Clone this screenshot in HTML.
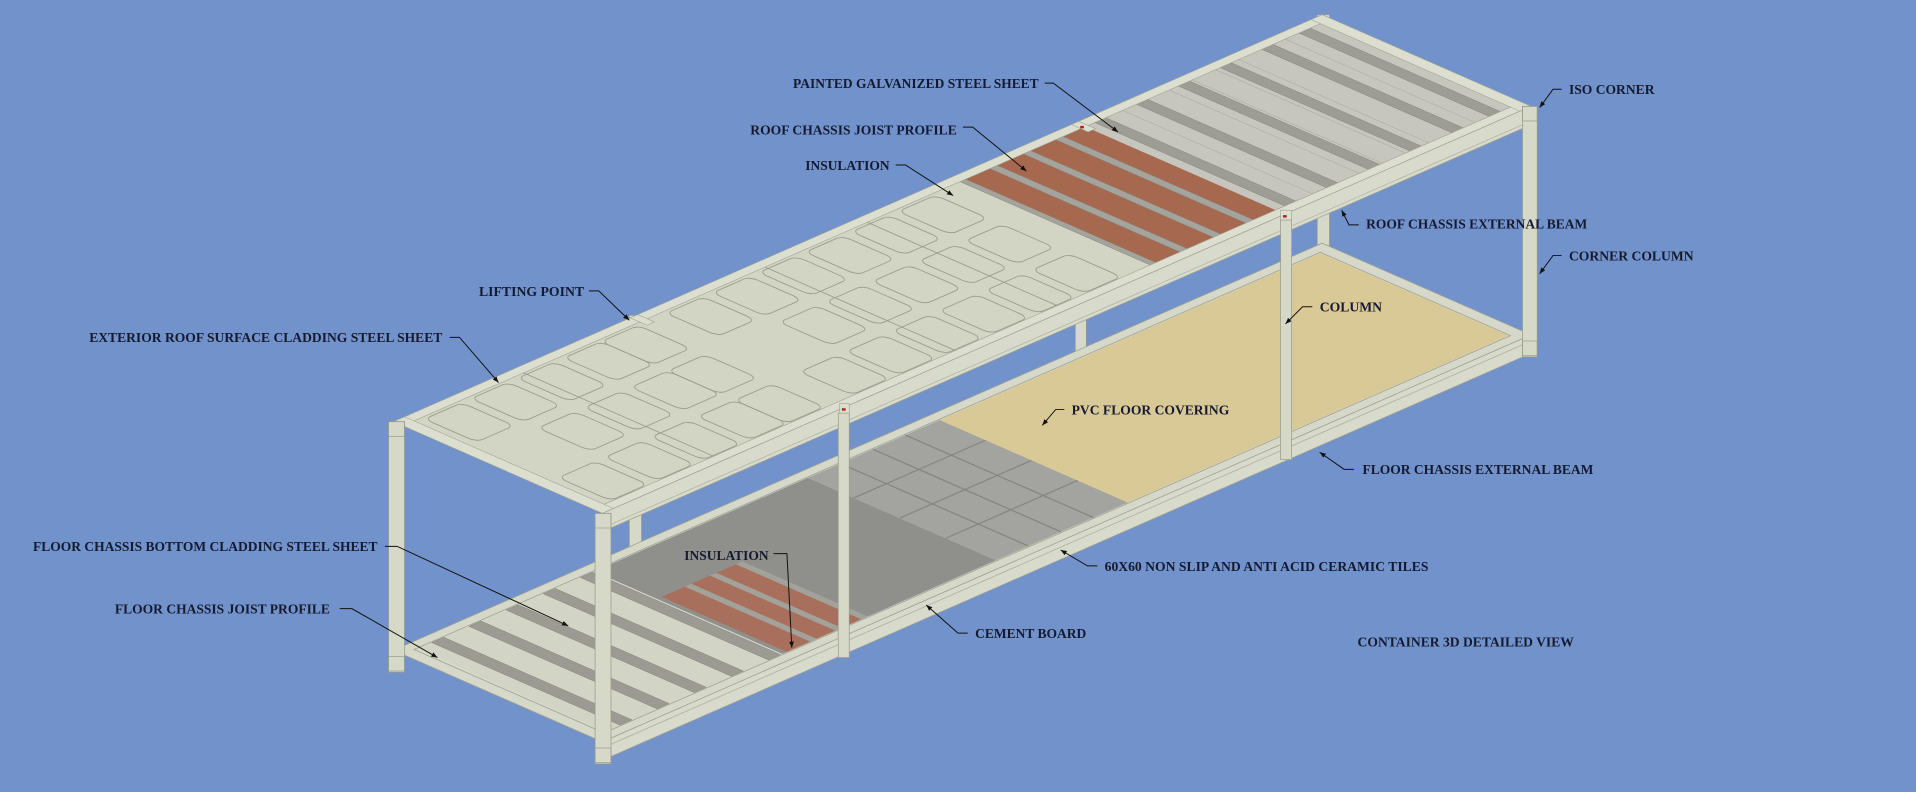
<!DOCTYPE html>
<html><head><meta charset="utf-8"><style>
html,body{margin:0;padding:0;background:#7192cb;width:1916px;height:792px;overflow:hidden}
svg{display:block}
text{font-family:"Liberation Serif",serif;font-weight:bold;font-size:11px;fill:#151a30}
.ns{vector-effect:non-scaling-stroke}
</style></head><body>
<svg width="1916" height="792" viewBox="0 0 1568 648" preserveAspectRatio="none" xmlns="http://www.w3.org/2000/svg">
<defs>
<marker id="ah" markerWidth="6" markerHeight="6" refX="5" refY="3" orient="auto" markerUnits="userSpaceOnUse">
<path d="M0,1 L5,3 L0,5 z" fill="#111"/></marker>
</defs>
<rect width="1568" height="648" fill="#7192cb"/>

<!-- back columns -->
<rect x="1078" y="12" width="10" height="205" fill="#d6d8c8" stroke="#9a9c8c" stroke-width="0.6"/>
<rect x="880" y="100" width="9" height="205" fill="#d6d8c8" stroke="#9a9c8c" stroke-width="0.6"/>
<rect x="515" y="258" width="10" height="205" fill="#d6d8c8" stroke="#9a9c8c" stroke-width="0.6"/>

<!-- FLOOR -->
<g transform="matrix(760 -333 171 75 322 532)">
  <rect x="0" y="0" width="1" height="1" fill="#d6d8ca"/>
  <rect x="0.015" y="0.05" width="0.19" height="0.9" fill="#d2d4c5"/>
  <g fill="#9b9b93" stroke="#85857e" stroke-width="0.5" class="ns">
    <rect x="0.03" y="0.05" width="0.013" height="0.9" class="ns"/>
    <rect x="0.07" y="0.05" width="0.013" height="0.9" class="ns"/>
    <rect x="0.11" y="0.05" width="0.013" height="0.9" class="ns"/>
    <rect x="0.15" y="0.05" width="0.013" height="0.9" class="ns"/>
    <rect x="0.19" y="0.05" width="0.013" height="0.9" class="ns"/>
  </g>
  <rect x="0.205" y="0.05" width="0.23" height="0.9" fill="#8f8f8b"/>
  <rect x="0.21" y="0.35" width="0.085" height="0.6" fill="#a8705c"/>
  <g fill="#a2a29a">
    <rect x="0.235" y="0.35" width="0.007" height="0.6"/>
    <rect x="0.262" y="0.35" width="0.007" height="0.6"/>
    <rect x="0.29" y="0.35" width="0.007" height="0.6"/>
  </g>
  <rect x="0.435" y="0.05" width="0.142" height="0.9" fill="#a3a39f"/>
  <g stroke="#85857f" stroke-width="1.2" class="ns">
    <line x1="0.435" y1="0.27" x2="0.577" y2="0.27" class="ns"/>
    <line x1="0.435" y1="0.49" x2="0.577" y2="0.49" class="ns"/>
    <line x1="0.435" y1="0.71" x2="0.577" y2="0.71" class="ns"/>
    <line x1="0.47" y1="0.05" x2="0.47" y2="0.95" class="ns"/>
    <line x1="0.505" y1="0.05" x2="0.505" y2="0.95" class="ns"/>
    <line x1="0.54" y1="0.05" x2="0.54" y2="0.95" class="ns"/>
  </g>
  <rect x="0.577" y="0.05" width="0.41" height="0.9" fill="#d9c997"/>
  <g fill="none" stroke="#a0a292" stroke-width="0.8" class="ns">
    <rect x="0" y="0" width="1" height="1" class="ns"/>
    <rect x="0.012" y="0.045" width="0.976" height="0.91" class="ns"/>
  </g>
</g>
<!-- floor front face -->
<polygon points="493,607 1253,274 1253,289 493,622" fill="#d8dacb" stroke="#a0a292" stroke-width="0.6"/>
<line x1="493" y1="612" x2="1253" y2="279" stroke="#b4b6a6" stroke-width="0.8"/>

<!-- ROOF -->
<g transform="matrix(760 -333 171 75 322 345)">
  <rect x="0" y="0" width="1" height="1" fill="#d2d4c4"/>
  <g fill="none" stroke="#9a9c8e" stroke-width="0.9" class="ns">
    <rect x="0.02" y="0.06" width="0.04" height="0.25" rx="0.006" ry="0.04" class="ns"/>
    <rect x="0.07" y="0.38" width="0.04" height="0.25" rx="0.006" ry="0.04" class="ns"/>
    <rect x="0.02" y="0.70" width="0.04" height="0.25" rx="0.006" ry="0.04" class="ns"/>
    <rect x="0.07" y="0.06" width="0.04" height="0.25" rx="0.006" ry="0.04" class="ns"/>
    <rect x="0.12" y="0.38" width="0.04" height="0.25" rx="0.006" ry="0.04" class="ns"/>
    <rect x="0.07" y="0.70" width="0.04" height="0.25" rx="0.006" ry="0.04" class="ns"/>
    <rect x="0.12" y="0.06" width="0.04" height="0.25" rx="0.006" ry="0.04" class="ns"/>
    <rect x="0.17" y="0.38" width="0.04" height="0.25" rx="0.006" ry="0.04" class="ns"/>
    <rect x="0.12" y="0.70" width="0.04" height="0.25" rx="0.006" ry="0.04" class="ns"/>
    <rect x="0.17" y="0.06" width="0.04" height="0.25" rx="0.006" ry="0.04" class="ns"/>
    <rect x="0.21" y="0.38" width="0.04" height="0.25" rx="0.006" ry="0.04" class="ns"/>
    <rect x="0.17" y="0.70" width="0.04" height="0.25" rx="0.006" ry="0.04" class="ns"/>
    <rect x="0.21" y="0.06" width="0.04" height="0.25" rx="0.006" ry="0.04" class="ns"/>
    <rect x="0.21" y="0.70" width="0.04" height="0.25" rx="0.006" ry="0.04" class="ns"/>
    <rect x="0.28" y="0.06" width="0.04" height="0.25" rx="0.006" ry="0.04" class="ns"/>
    <rect x="0.33" y="0.38" width="0.04" height="0.25" rx="0.006" ry="0.04" class="ns"/>
    <rect x="0.28" y="0.70" width="0.04" height="0.25" rx="0.006" ry="0.04" class="ns"/>
    <rect x="0.33" y="0.06" width="0.04" height="0.25" rx="0.006" ry="0.04" class="ns"/>
    <rect x="0.38" y="0.38" width="0.04" height="0.25" rx="0.006" ry="0.04" class="ns"/>
    <rect x="0.33" y="0.70" width="0.04" height="0.25" rx="0.006" ry="0.04" class="ns"/>
    <rect x="0.38" y="0.06" width="0.04" height="0.25" rx="0.006" ry="0.04" class="ns"/>
    <rect x="0.43" y="0.38" width="0.04" height="0.25" rx="0.006" ry="0.04" class="ns"/>
    <rect x="0.38" y="0.70" width="0.04" height="0.25" rx="0.006" ry="0.04" class="ns"/>
    <rect x="0.43" y="0.06" width="0.04" height="0.25" rx="0.006" ry="0.04" class="ns"/>
    <rect x="0.48" y="0.38" width="0.04" height="0.25" rx="0.006" ry="0.04" class="ns"/>
    <rect x="0.43" y="0.70" width="0.04" height="0.25" rx="0.006" ry="0.04" class="ns"/>
    <rect x="0.48" y="0.06" width="0.04" height="0.25" rx="0.006" ry="0.04" class="ns"/>
    <rect x="0.53" y="0.38" width="0.04" height="0.25" rx="0.006" ry="0.04" class="ns"/>
    <rect x="0.48" y="0.70" width="0.04" height="0.25" rx="0.006" ry="0.04" class="ns"/>
    <rect x="0.53" y="0.06" width="0.04" height="0.25" rx="0.006" ry="0.04" class="ns"/>
    <rect x="0.53" y="0.70" width="0.04" height="0.25" rx="0.006" ry="0.04" class="ns"/>
    <line x1="0.13" y1="0.04" x2="0.13" y2="0.96" class="ns"/>
    <line x1="0.39" y1="0.04" x2="0.39" y2="0.96" class="ns"/>
    <line x1="0.50" y1="0.04" x2="0.50" y2="0.96" class="ns"/>
  </g>
  <rect x="0.6" y="0.04" width="0.135" height="0.92" fill="#a6684f"/>
  <g fill="#a4a49c" stroke="#85857e" stroke-width="0.5" class="ns">
    <rect x="0.6" y="0.04" width="0.006" height="0.92" class="ns"/>
    <rect x="0.632" y="0.04" width="0.008" height="0.92" class="ns"/>
    <rect x="0.668" y="0.04" width="0.008" height="0.92" class="ns"/>
    <rect x="0.703" y="0.04" width="0.008" height="0.92" class="ns"/>
  </g>
  <rect x="0.735" y="0.04" width="0.255" height="0.92" fill="#c6c6be"/>
  <g stroke="#acaca4" stroke-width="0.6" class="ns">
    <line x1="0.75" y1="0.04" x2="0.75" y2="0.96" class="ns"/><line x1="0.775" y1="0.04" x2="0.775" y2="0.96" class="ns"/>
    <line x1="0.80" y1="0.04" x2="0.80" y2="0.96" class="ns"/><line x1="0.825" y1="0.04" x2="0.825" y2="0.96" class="ns"/>
    <line x1="0.85" y1="0.04" x2="0.85" y2="0.96" class="ns"/><line x1="0.875" y1="0.04" x2="0.875" y2="0.96" class="ns"/>
    <line x1="0.90" y1="0.04" x2="0.90" y2="0.96" class="ns"/><line x1="0.925" y1="0.04" x2="0.925" y2="0.96" class="ns"/>
    <line x1="0.95" y1="0.04" x2="0.95" y2="0.96" class="ns"/><line x1="0.975" y1="0.04" x2="0.975" y2="0.96" class="ns"/>
  </g>
  <g fill="#9d9d95" stroke="#85857e" stroke-width="0.5" class="ns">
    <rect x="0.745" y="0.04" width="0.012" height="0.92" class="ns"/>
    <rect x="0.79" y="0.04" width="0.012" height="0.92" class="ns"/>
    <rect x="0.835" y="0.04" width="0.012" height="0.92" class="ns"/>
    <rect x="0.88" y="0.04" width="0.012" height="0.92" class="ns"/>
    <rect x="0.925" y="0.04" width="0.012" height="0.92" class="ns"/>
    <rect x="0.965" y="0.04" width="0.012" height="0.92" class="ns"/>
  </g>
  <g fill="#dcdecf" stroke="#a0a292" stroke-width="0.6" class="ns">
    <rect x="0" y="0" width="1" height="0.045" class="ns"/>
    <rect x="0" y="0.955" width="1" height="0.045" class="ns"/>
    <rect x="0" y="0" width="0.012" height="1" class="ns"/>
    <rect x="0.988" y="0" width="0.012" height="1" class="ns"/>
    <rect x="0.255" y="0" width="0.008" height="0.08" class="ns"/>
    <rect x="0.73" y="0" width="0.008" height="0.08" class="ns"/>
  </g>
</g>
<!-- roof front face -->
<polygon points="493,420 1253,87 1253,102 493,435" fill="#d8dacb" stroke="#a0a292" stroke-width="0.6"/>
<line x1="493" y1="432" x2="1253" y2="99" stroke="#b4b6a6" stroke-width="0.7"/>
<rect x="687" y="330" width="8" height="10" fill="#dcdecf" stroke="#a0a292" stroke-width="0.5"/>
<rect x="689" y="334" width="3" height="2" fill="#b02020"/>
<rect x="1048" y="172" width="9" height="10" fill="#dcdecf" stroke="#a0a292" stroke-width="0.5"/>
<rect x="1050" y="176" width="3" height="2" fill="#b02020"/>
<rect x="884" y="103" width="3" height="2" fill="#b02020"/>

<!-- front columns -->
<g fill="#d6d8c8" stroke="#9a9c8c" stroke-width="0.6">
  <rect x="318" y="345" width="13" height="205"/>
  <rect x="487" y="420" width="13" height="205"/>
  <rect x="686" y="338" width="9" height="200"/>
  <rect x="1048" y="180" width="9" height="196"/>
  <rect x="1246" y="87" width="12" height="205"/>
</g>
<g fill="none" stroke="#9a9c8c" stroke-width="0.6">
  <rect x="318" y="345" width="13" height="12"/><rect x="487" y="420" width="13" height="12"/>
  <rect x="1246" y="87" width="12" height="12"/><rect x="487" y="612" width="13" height="12"/>
  <rect x="318" y="537" width="13" height="12"/><rect x="1246" y="279" width="12" height="12"/>
</g>

<!-- leaders -->
<g stroke="#111" stroke-width="0.8" fill="none" marker-end="url(#ah)">
  <polyline points="855,68 862,68 915,108"/>
  <polyline points="788,104 796,104 840,140"/>
  <polyline points="733,135 741,135 780,160"/>
  <polyline points="1278,73 1271,73 1260,88"/>
  <polyline points="1112,184 1104,184 1098,172"/>
  <polyline points="1278,209 1271,209 1260,224"/>
  <polyline points="1074,251 1066,251 1052,265"/>
  <polyline points="482,238 490,238 515,262"/>
  <polyline points="368,276 376,276 408,313"/>
  <polyline points="871,335 864,335 853,348"/>
  <polyline points="1108,384 1100,384 1080,370"/>
  <polyline points="315,447 325,447 465,512"/>
  <polyline points="633,453 644,453 648,530"/>
  <polyline points="898,463 890,463 868,450"/>
  <polyline points="278,498 288,498 358,538"/>
  <polyline points="792,518 784,518 758,495"/>
</g>

<!-- labels -->
<text x="649" y="72" textLength="201" lengthAdjust="spacingAndGlyphs">PAINTED GALVANIZED STEEL SHEET</text>
<text x="614" y="110" textLength="169" lengthAdjust="spacingAndGlyphs">ROOF CHASSIS JOIST PROFILE</text>
<text x="659" y="139" textLength="69" lengthAdjust="spacingAndGlyphs">INSULATION</text>
<text x="1284" y="77" textLength="70" lengthAdjust="spacingAndGlyphs">ISO CORNER</text>
<text x="1118" y="187" textLength="181" lengthAdjust="spacingAndGlyphs">ROOF CHASSIS EXTERNAL BEAM</text>
<text x="1284" y="213" textLength="102" lengthAdjust="spacingAndGlyphs">CORNER COLUMN</text>
<text x="1080" y="255" textLength="51" lengthAdjust="spacingAndGlyphs">COLUMN</text>
<text x="392" y="242" textLength="86" lengthAdjust="spacingAndGlyphs">LIFTING POINT</text>
<text x="73" y="280" textLength="289" lengthAdjust="spacingAndGlyphs">EXTERIOR ROOF SURFACE CLADDING STEEL SHEET</text>
<text x="877" y="339" textLength="129" lengthAdjust="spacingAndGlyphs">PVC FLOOR COVERING</text>
<text x="1115" y="388" textLength="189" lengthAdjust="spacingAndGlyphs">FLOOR CHASSIS EXTERNAL BEAM</text>
<text x="27" y="451" textLength="282" lengthAdjust="spacingAndGlyphs">FLOOR CHASSIS BOTTOM CLADDING STEEL SHEET</text>
<text x="560" y="458" textLength="69" lengthAdjust="spacingAndGlyphs">INSULATION</text>
<text x="904" y="467" textLength="265" lengthAdjust="spacingAndGlyphs">60X60 NON SLIP AND ANTI ACID CERAMIC TILES</text>
<text x="94" y="502" textLength="176" lengthAdjust="spacingAndGlyphs">FLOOR CHASSIS JOIST PROFILE</text>
<text x="798" y="522" textLength="91" lengthAdjust="spacingAndGlyphs">CEMENT BOARD</text>
<text x="1111" y="529" textLength="177" lengthAdjust="spacingAndGlyphs">CONTAINER 3D DETAILED VIEW</text>
</svg>
</body></html>
